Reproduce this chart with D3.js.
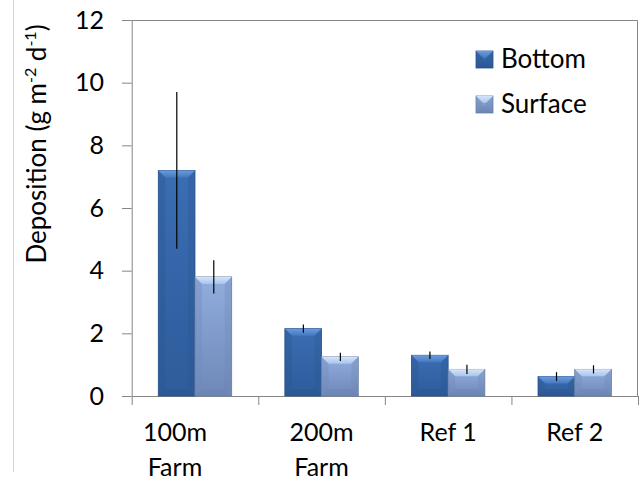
<!DOCTYPE html>
<html>
<head>
<meta charset="utf-8">
<script src="https://cdn.jsdelivr.net/npm/d3@7"></script>
<style>
  body { margin: 0; background: #fff; }
  svg { display: block; font-family: Lato, "Open Sans", sans-serif; }
</style>
</head>
<body>
<svg width="640" height="482"></svg>
<script>
"use strict";

// data
const categories = ["100m Farm", "200m Farm", "Ref 1", "Ref 2"];
const series = ["Bottom", "Surface"];
const bottomValues = [7.2, 2.15, 1.3, 0.62];
const bottomErrors = [2.5, 0.13, 0.12, 0.14];
const surfaceValues = [3.8, 1.25, 0.85, 0.85];
const surfaceErrors = [0.53, 0.13, 0.15, 0.13];
const yTicks = [0, 2, 4, 6, 8, 10, 12];

const rows = categories.map((c, i) => ({
  cat: c,
  bars: [
    { s: "Bottom", v: bottomValues[i], e: bottomErrors[i] },
    { s: "Surface", v: surfaceValues[i], e: surfaceErrors[i] }
  ]
}));

const svg = d3.select("svg");
const plotL = 131.7, plotR = 638, plotT = 20, plotB = 396;
const grey = "#868686";

// gradients for the bevelled excel bars
const defs = svg.append("defs");
function grad(id, stops, vertical) {
  const g = defs.append("linearGradient").attr("id", id)
    .attr("x1", 0).attr("y1", 0)
    .attr("x2", vertical ? 0 : 1).attr("y2", vertical ? 1 : 0);
  stops.forEach(s => g.append("stop").attr("offset", s[0]).attr("stop-color", s[1]));
}
grad("bodyBottom", [[0, "#3A6DB2"], [1, "#2E5C9C"]], true);
grad("bodySurface", [[0, "#92AEDE"], [1, "#6E88B8"]], true);
grad("capBottom", [[0, "#6B9BDE"], [1, "#4579C0"]], true);
grad("capSurface", [[0, "#D5E5F9"], [1, "#A9C3EA"]], true);

svg.append("rect").attr("width", 640).attr("height", 482).attr("fill", "#fff");

// outer chart border line on the left
svg.append("line").attr("x1", 13.5).attr("x2", 13.5).attr("y1", 0).attr("y2", 472)
  .attr("stroke", "#d4d4d4");

const y = d3.scaleLinear().domain([0, 12]).range([plotB, plotT]);
const x = d3.scaleBand().domain(categories).range([plotL, plotR])
  .paddingInner(0.42).paddingOuter(0.21);
const xSub = d3.scaleBand().domain(series).range([0, x.bandwidth()]);

// plot border (top and right)
svg.append("path")
  .attr("d", `M${plotL},${plotT + 0.5}H${plotR - 0.5}V${plotB}`)
  .attr("fill", "none").attr("stroke", grey);

// y axis
const yAxis = d3.axisLeft(y).tickValues(yTicks).tickSize(9.7).tickSizeOuter(0).tickPadding(18);
const gy = svg.append("g").attr("transform", `translate(${plotL},0)`).call(yAxis);
gy.selectAll("path, line").attr("stroke", grey);
gy.selectAll("text").attr("font-size", 25).attr("fill", "#000").attr("font-family", "Lato");

// x axis: ticks sit on the category boundaries
const step = x.step();
const bounds = d3.range(categories.length + 1).map(i => plotL + i * step);
const xLin = d3.scaleLinear().domain([plotL, plotR]).range([plotL, plotR]);
const xAxis = d3.axisBottom(xLin).tickValues(bounds).tickSize(9).tickSizeOuter(0).tickFormat("");
const gx = svg.append("g").attr("transform", `translate(0,${plotB})`).call(xAxis);
gx.selectAll("path, line").attr("stroke", grey);

// category labels, split onto two lines (the first one sits a bit to the left, as in excel)
svg.append("g").selectAll("text").data(categories).join("text")
  .attr("y", 441)
  .attr("text-anchor", "middle")
  .attr("font-size", 25)
  .each(function (d, i) {
    const cx = x(d) + x.bandwidth() / 2 - (i === 0 ? 20 : 0);
    const parts = d.endsWith("Farm") ? [d.replace(" Farm", ""), "Farm"] : [d];
    parts.forEach((p, j) => {
      d3.select(this).append("tspan")
        .attr("x", cx)
        .attr("dy", j === 0 ? 0 : 35)
        .text(p);
    });
  });

// bars
function bevelBar(g, bx, by, w, h, kind) {
  const b = Math.min(7, h / 2, w / 2);
  g.append("rect").attr("x", bx).attr("y", by).attr("width", w).attr("height", h)
    .attr("fill", `url(#body${kind})`)
    .attr("stroke", kind === "Bottom" ? "#2a5288" : "#6a7fa6").attr("stroke-width", 0.8);
  // top bevel
  g.append("path")
    .attr("d", `M${bx},${by}H${bx + w}L${bx + w - b},${by + b}H${bx + b}Z`)
    .attr("fill", `url(#cap${kind})`);
  // side strips, kept faint
  g.append("path")
    .attr("d", `M${bx},${by}L${bx + b},${by + b}V${by + h - b}L${bx},${by + h}Z`)
    .attr("fill", kind === "Bottom" ? "#2A5590" : "#7089B8").attr("opacity", 0.35);
  g.append("path")
    .attr("d", `M${bx + w},${by}L${bx + w - b},${by + b}V${by + h - b}L${bx + w},${by + h}Z`)
    .attr("fill", kind === "Bottom" ? "#2A5590" : "#6E86B3").attr("opacity", 0.3);
  g.append("path")
    .attr("d", `M${bx},${by + h}L${bx + b},${by + h - b}H${bx + w - b}L${bx + w},${by + h}Z`)
    .attr("fill", kind === "Bottom" ? "#284E84" : "#6780AD").attr("opacity", 0.3);
}

const groups = svg.append("g").selectAll("g").data(rows).join("g")
  .attr("transform", d => `translate(${x(d.cat)},0)`);

groups.each(function (d) {
  const g = d3.select(this);
  d.bars.forEach(b => {
    bevelBar(g, xSub(b.s), y(b.v), xSub.bandwidth(), y(0) - y(b.v), b.s);
  });
  d.bars.forEach(b => {
    const cx = Math.round(xSub(b.s) + xSub.bandwidth() / 2) + 0.5;
    g.append("line")
      .attr("x1", cx).attr("x2", cx)
      .attr("y1", y(b.v + b.e)).attr("y2", y(b.v - b.e))
      .attr("stroke", "#000").attr("stroke-width", 1.2);
  });
});

// legend
const legend = svg.append("g").selectAll("g").data(series).join("g")
  .attr("transform", (d, i) => `translate(476,${51 + i * 45})`);
legend.each(function (d) {
  bevelBar(d3.select(this), 0, 0, 17, 17, d);
});
legend.append("text")
  .attr("x", 25).attr("y", 17)
  .attr("font-size", 26)
  .text(d => d);

// y axis title with superscripts
const yt = svg.append("text")
  .attr("transform", "translate(46,144) rotate(-90)")
  .attr("text-anchor", "middle")
  .attr("font-size", 26);
yt.append("tspan").text("Deposition (g m");
yt.append("tspan").attr("font-size", 16).attr("dy", -10).text("-2");
yt.append("tspan").attr("dy", 10).text(" d");
yt.append("tspan").attr("font-size", 16).attr("dy", -10).text("-1");
yt.append("tspan").attr("dy", 10).text(")");
</script>
</body>
</html>
